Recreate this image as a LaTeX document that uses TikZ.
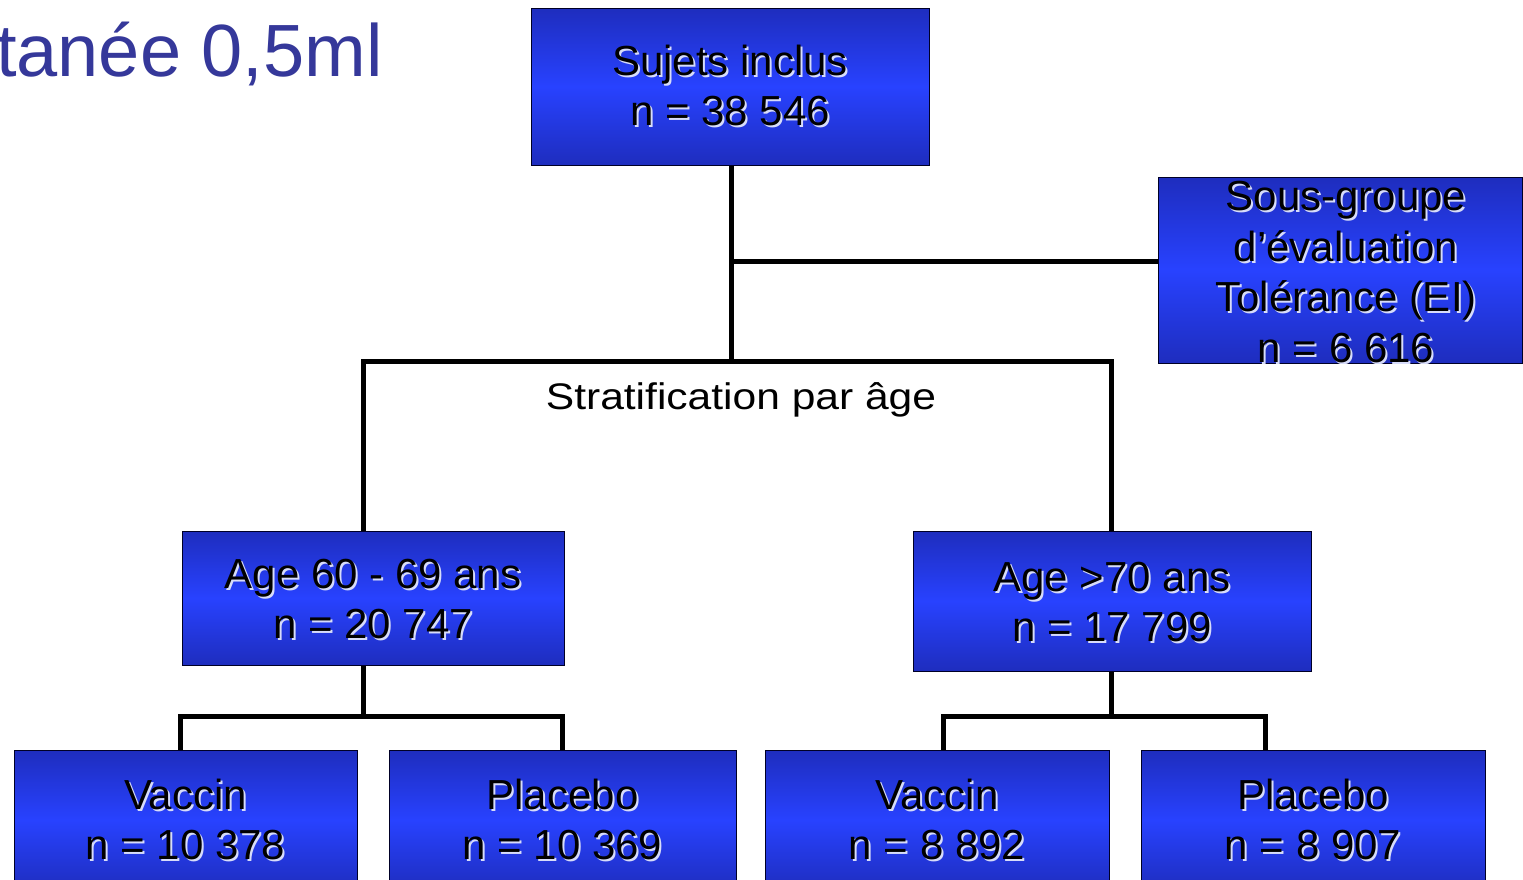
\documentclass[tikz,border=0pt]{standalone}
\usepackage{fontspec}
\setmainfont{Liberation Sans}
\definecolor{boxedge}{RGB}{30,45,190}
\definecolor{boxmid}{RGB}{40,66,255}
\definecolor{glowc}{RGB}{215,220,250}
\definecolor{titlec}{RGB}{53,56,154}
\newcommand\gl[1]{\rlap{\kern2pt\raisebox{-2pt}{\textcolor{glowc}{#1}}}#1}
\newcommand\strt[1]{\rule{0pt}{#1}}
\tikzset{
  box/.style={draw=black!85!blue, line width=1pt, top color=boxedge, bottom color=boxedge, middle color=boxmid, inner sep=0pt, align=center, font=\fontsize{42}{50}\selectfont},
  conn/.style={draw=black, line width=5pt, line join=miter}
}
\begin{document}
\begin{tikzpicture}[x=1pt,y=-1pt]
\clip (0,0) rectangle (1523,879);
\fill[white] (0,0) rectangle (1523,879);
% title fragment
\node[anchor=base east, inner sep=0pt, text=titlec, font=\fontsize{74}{80}\selectfont] (title) at (383,76) {tanée 0,5ml};
% boxes
\node[box, minimum width=398pt, minimum height=157pt] (top) at (730,86.5) {\gl{Sujets inclus}\\\gl{n = 38 546}};
\node[box, minimum width=364pt, minimum height=186pt] (sg) at (1340,270) {};
\begin{scope}
\clip (sg.south west) rectangle (sg.north east);
\node[align=center, inner sep=0pt, font=\fontsize{42}{50.5}\selectfont] (sgtext) at (1346,273) {\gl{Sous-groupe}\\\gl{d’évaluation}\\\gl{Tolérance (EI)}\\\gl{n = 6 616}};
\end{scope}
\node[box, minimum width=382pt, minimum height=134pt] (m1) at (373,598) {\strt{34pt}\gl{Age 60 - 69 ans}\\\gl{n = 20 747}};
\node[box, minimum width=398pt, minimum height=140pt] (m2) at (1112,601) {\strt{33pt}\gl{Age >70 ans}\\\gl{n = 17 799}};
\node[box, minimum width=343pt, minimum height=140pt] (b1) at (185.5,820) {\gl{Vaccin}\\\gl{n = 10 378}};
\node[box, minimum width=347pt, minimum height=140pt] (b2) at (562.5,820) {\gl{Placebo}\\\gl{n = 10 369}};
\node[box, minimum width=344pt, minimum height=140pt] (b3) at (937,820) {\gl{Vaccin}\\\gl{n = 8 892}};
\node[box, minimum width=344pt, minimum height=140pt] (b4) at (1313,820) {\gl{Placebo}\\\gl{n = 8 907}};
% label
\node[inner sep=0pt, xscale=1.15, font=\fontsize{37}{44}\selectfont] (strat) at (741,400) {Stratification par âge};
% junctions
\coordinate (jt) at (731,361);
\coordinate (jsg) at (731,261);
\coordinate (hl) at (363,361);
\coordinate (hr) at (1111,361);
\coordinate (jl) at (363,716);
\coordinate (jr) at (1111,716);
\coordinate (l1) at (180,716);
\coordinate (l2) at (562,716);
\coordinate (r1) at (943,716);
\coordinate (r2) at (1265,716);
% connectors
\draw[conn] (top.south -| jt) -- (jt);
\draw[conn] (jsg) -- (jsg -| sg.west);
\draw[conn] (hl |- m1.north) -- (hl) -- (hr) -- (hr |- m2.north);
\draw[conn] (jl |- m1.south) -- (jl);
\draw[conn] (l1 |- b1.north) -- (l1) -- (l2) -- (l2 |- b2.north);
\draw[conn] (jr |- m2.south) -- (jr);
\draw[conn] (r1 |- b3.north) -- (r1) -- (r2) -- (r2 |- b4.north);
\end{tikzpicture}
\end{document}
